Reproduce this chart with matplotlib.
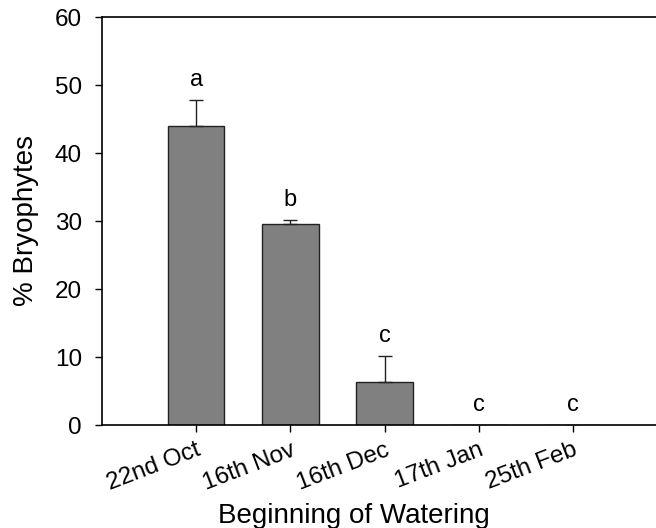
import matplotlib.pyplot as plt

plt.rcParams['font.family'] = ['Liberation Sans', 'DejaVu Sans']

dates = ['22nd Oct', '16th Nov', '16th Dec', '17th Jan', '25th Feb']
bryophytes = [43.9, 29.6, 6.3, 0.0, 0.0]
errors = [3.9, 0.5, 3.9, 0.0, 0.0]
groups = ['a', 'b', 'c', 'c', 'c']

fig = plt.figure(figsize=(6.56, 5.28), dpi=100)
ax = fig.add_axes([102 / 656, 103 / 528, 565 / 656, 408 / 528])

x = range(len(dates))
ax.bar(x, bryophytes, width=0.6, color='#808080', edgecolor='#222222', linewidth=1.0, zorder=2)
ax.errorbar(x, bryophytes, yerr=[[0] * len(errors), errors], fmt='none',
            ecolor='#222222', elinewidth=1.0, capsize=5, capthick=1.0, zorder=3)

# significance letters sit just above each error bar
for xi, v, e, g in zip(x, bryophytes, errors, groups):
    ax.text(xi, v + e + 1.3, g, ha='center', va='bottom', fontsize=17)

ax.set_xlim(-1, 5)
ax.set_ylim(0, 60)
ax.set_yticks(range(0, 61, 10))
ax.set_xticks(list(x))
ax.set_xticklabels(dates, rotation=21, ha='right', rotation_mode='anchor')
ax.tick_params(axis='both', direction='out', length=5, width=1, labelsize=17.5, pad=5)
ax.tick_params(axis='y', pad=9.5)

for side in ['left', 'top', 'bottom']:
    ax.spines[side].set_linewidth(1.2)
ax.spines['right'].set_visible(False)

ax.set_ylabel('% Bryophytes', fontsize=20)
ax.yaxis.set_label_coords(-0.111, 0.5)
ax.set_xlabel('Beginning of Watering', fontsize=20)
ax.xaxis.set_label_coords(0.445, -0.19)

fig.savefig('out.png', dpi=100)
